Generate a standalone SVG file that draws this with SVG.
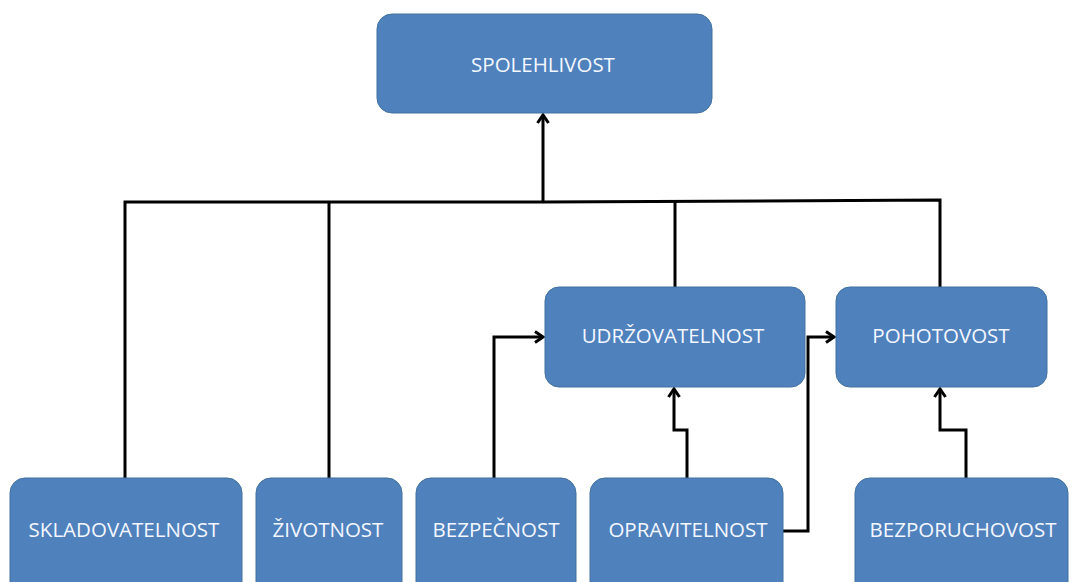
<svg xmlns="http://www.w3.org/2000/svg" width="1072" height="582" viewBox="0 0 1072 582">
  <defs>
    <style>
      .box { fill: #4f81bd; stroke: #41709f; stroke-width: 1; }
      .lbl { fill: #f4f7ff; font-family: "Open Sans", "Liberation Sans", sans-serif; font-size: 20.5px; text-anchor: middle; dominant-baseline: central; }
      .wire { fill: none; stroke: #000; stroke-width: 3; stroke-linejoin: miter; }
    </style>
    <marker id="arr" viewBox="0 0 14 14" refX="11" refY="7" markerWidth="14" markerHeight="14" markerUnits="userSpaceOnUse" orient="auto">
      <path d="M3,1.5 L11,7 L3,12.5" fill="none" stroke="#000" stroke-width="3"/>
    </marker>
  </defs>
  <rect width="1072" height="582" fill="#fff"/>

  <g id="connectors">
    <!-- collector bus to the top node -->
    <path class="wire" d="M125,478 V202 H543 L940,200 V288"/>
    <path class="wire" d="M329,478 V202"/>
    <path class="wire" d="M675,288 V200"/>
    <path class="wire" d="M543,202 V115" stroke-width="3.5" marker-end="url(#arr)"/>
    <!-- lower level links -->
    <path class="wire" d="M494,478 V337 H543" marker-end="url(#arr)"/>
    <path class="wire" d="M687,478 V430 H674 V389" marker-end="url(#arr)"/>
    <path class="wire" d="M783,531 H808 V337 H834" marker-end="url(#arr)"/>
    <path class="wire" d="M966,478 V430 H940 V389" marker-end="url(#arr)"/>
  </g>

  <g id="spolehlivost">
    <rect class="box" x="377" y="14" width="335" height="99" rx="15"/>
    <text class="lbl" x="543" y="64">SPOLEHLIVOST</text>
  </g>
  <g id="udrzovatelnost">
    <rect class="box" x="545" y="287" width="260" height="100" rx="14"/>
    <text class="lbl" x="673" y="335">UDRŽOVATELNOST</text>
  </g>
  <g id="pohotovost">
    <rect class="box" x="836" y="287" width="211" height="100" rx="14"/>
    <text class="lbl" x="941" y="335">POHOTOVOST</text>
  </g>
  <g id="skladovatelnost">
    <rect class="box" x="10" y="478" width="232" height="120" rx="15"/>
    <text class="lbl" x="124" y="529">SKLADOVATELNOST</text>
  </g>
  <g id="zivotnost">
    <rect class="box" x="256" y="478" width="146" height="120" rx="15"/>
    <text class="lbl" x="328" y="529">ŽIVOTNOST</text>
  </g>
  <g id="bezpecnost">
    <rect class="box" x="416" y="478" width="160" height="120" rx="15"/>
    <text class="lbl" x="496" y="529">BEZPEČNOST</text>
  </g>
  <g id="opravitelnost">
    <rect class="box" x="590" y="478" width="193" height="120" rx="15"/>
    <text class="lbl" x="688" y="529">OPRAVITELNOST</text>
  </g>
  <g id="bezporuchovost">
    <rect class="box" x="855" y="478" width="213" height="120" rx="15"/>
    <text class="lbl" x="963" y="529">BEZPORUCHOVOST</text>
  </g>
</svg>
